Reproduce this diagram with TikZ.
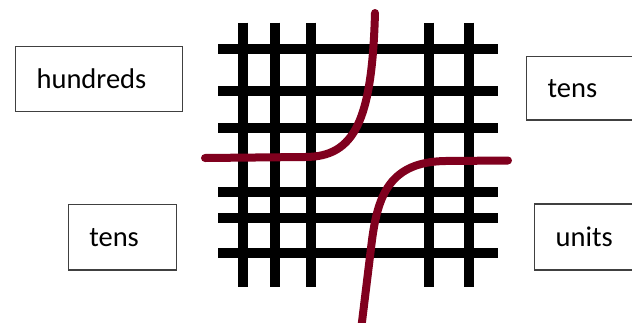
\documentclass[tikz,border=0pt]{standalone}
\usepackage{fontspec}
\setmainfont{Carlito}
\usetikzlibrary{positioning}
\definecolor{curvered}{RGB}{128,0,30}
\definecolor{boxgray}{RGB}{64,64,64}
\newcommand{\boxfont}{\fontsize{28.5}{34}\selectfont}
\begin{document}
\begin{tikzpicture}[x=1pt,y=-1pt,
  placebox/.style={draw=boxgray,line width=1.2pt,anchor=north west,inner xsep=21pt,inner ysep=0pt,align=left,font=\boxfont},
  gridline/.style={black,line width=10pt},
  curveline/.style={curvered,line width=8pt,line cap=round}]
\useasboundingbox (0,0) rectangle (632,322);
\clip (0,0) rectangle (632,322);
\fill[white] (0,0) rectangle (632,322);
\foreach \x in {242.7,275,311,429.3,469.3}
  \draw[gridline] (\x,22.7) -- (\x,286.7);
\foreach \y in {49.3,91,127.7,192.3,218.3,252.7}
  \draw[gridline] (218.3,\y) -- (498.3,\y);
\draw[curveline] (375,13) .. controls (372,120) and (355,157) .. (305,157) -- (205,158);
\draw[curveline] (508,160.5) -- (445,161) .. controls (390,162) and (378,195) .. (372,240) -- (361,330);
\node[placebox,text width=124.7pt,minimum height=65.3pt] (hundreds) at (15,45.7) {hundreds};
\node[placebox,text width=82pt,minimum height=63.3pt] (tensright) at (526,56) {tens};
\node[placebox,text width=66.3pt,minimum height=65.3pt] (tensleft) at (67.7,204) {tens};
\node[placebox,text width=74pt,minimum height=66pt] (units) at (534,203.3) {units};
\end{tikzpicture}
\end{document}
